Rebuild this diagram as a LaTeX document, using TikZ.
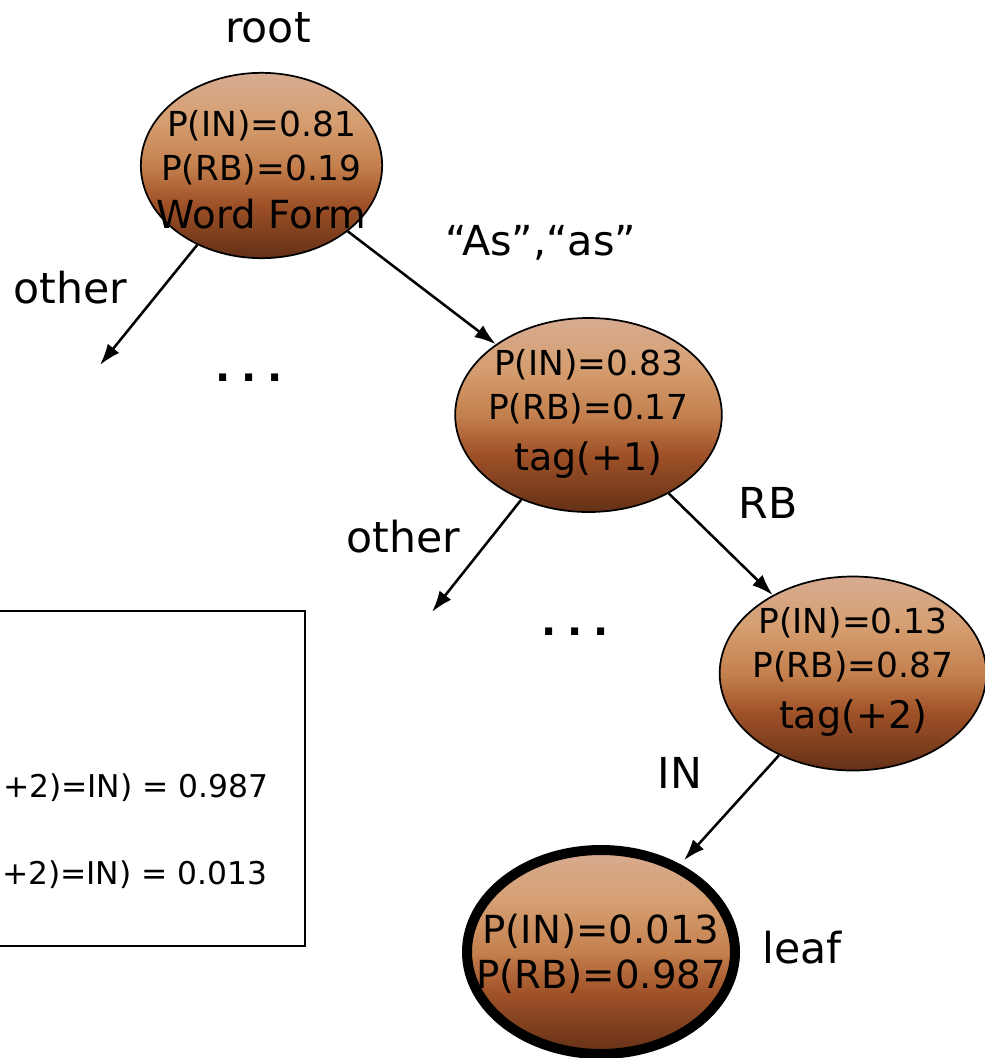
\documentclass[tikz,border=0pt]{standalone}
\usepackage{fontspec}
\setmainfont{DejaVu Sans}
\usetikzlibrary{shapes.geometric,arrows.meta}

\definecolor{barklight}{RGB}{215,172,145}
\definecolor{barksand}{RGB}{213,158,112}
\definecolor{barkorange}{RGB}{196,128,78}
\definecolor{barkrust}{RGB}{160,82,40}
\definecolor{barkdark}{RGB}{100,48,22}
\pgfdeclareverticalshading{bark}{100bp}{color(0bp)=(barkdark); color(25bp)=(barkdark); color(40bp)=(barkrust); color(50bp)=(barkorange); color(62bp)=(barksand); color(75bp)=(barklight); color(100bp)=(barklight)}

\tikzset{every picture/.style={line width=0.75pt}}
\tikzset{
  treenode/.style={ellipse,draw,shading=bark,inner sep=0pt,line width=1.3pt},
  nodetext/.style={align=center,inner sep=0pt,font=\fontsize{25.8}{33}\selectfont},
  edgelabel/.style={inner sep=0pt,font=\fontsize{32}{38}\selectfont},
  dotslabel/.style={inner sep=0pt,font=\fontsize{30}{32}\selectfont\bfseries},
  boxtext/.style={inner sep=0pt,font=\fontsize{23.5}{28}\selectfont},
  branch/.style={-{Latex[length=16pt,width=11pt]},line width=1.9pt},
}

\begin{document}
\begin{tikzpicture}[x=0.75pt,y=0.75pt,yscale=-1,xscale=1]
\useasboundingbox (0,0) rectangle (985,1058);

%Shape: Ellipse nodes of the tree
\node [treenode,minimum width=181pt,minimum height=139pt] (root) at (261.5,165.5) {};
\node [treenode,minimum width=200pt,minimum height=145.5pt] (tagA) at (588.5,415) {};
\node [treenode,minimum width=200pt,minimum height=145.5pt] (tagB) at (853,673.5) {};
\node [treenode,line width=7.5pt,minimum width=201pt,minimum height=153pt] (leaf) at (601,952) {};

% Text Node
\node [nodetext] (rootText) at ([yshift=3pt]root) {P(IN)=0.81\\P(RB)=0.19\\[3pt]{\fontsize{29}{33}\selectfont Word Form}};
% Text Node
\node [nodetext] (tagAText) at ([yshift=-1pt]tagA) {P(IN)=0.83\\P(RB)=0.17\\[5pt]{\fontsize{28.5}{33}\selectfont tag(+1)}};
% Text Node
\node [nodetext] (tagBText) at ([yshift=-1pt]tagB) {P(IN)=0.13\\P(RB)=0.87\\[5pt]{\fontsize{28.5}{33}\selectfont tag(+2)}};
% Text Node
\node [nodetext,font=\fontsize{29}{34}\selectfont] (leafText) at ([yshift=1.5pt]leaf) {P(IN)=0.013\\P(RB)=0.987};

%Straight Lines: branches
\coordinate (endA) at (100,365);
\coordinate (endB) at (432,612);
\draw [branch] (root) -- (endA);
\draw [branch] (root) -- (tagA);
\draw [branch] (tagA) -- (endB);
\draw [branch] (tagA) -- (tagB);
\draw [branch,shorten >=4pt] (tagB) -- (leaf);

% Text Node
\node [edgelabel] (rootLabel) at (268,28) {root};
\node [edgelabel] (otherA) at (70,288) {other};
\node [edgelabel,font=\fontsize{31}{34}\selectfont] (wordLabel) at (541,243) {“As”,“as”};
\node [dotslabel] (dotsA) at (249,378) {.\hspace{8pt}.\hspace{8pt}.};
\node [edgelabel] (otherB) at (403,537) {other};
\node [edgelabel] (rbLabel) at (768,503) {RB};
\node [dotslabel] (dotsB) at (575,632) {.\hspace{8pt}.\hspace{8pt}.};
\node [edgelabel] (inLabel) at (680,773) {IN};
\node [edgelabel] (leafLabel) at (802,948) {leaf};

%Shape: Rectangle with the leaf estimates
\draw [line width=2.2pt] (-20,611) rectangle (305,946);
\node [boxtext,anchor=east] (probIN) at (269,788) {+2)=IN) = 0.987};
\node [boxtext,anchor=east] (probRB) at (268,875) {+2)=IN) = 0.013};

\end{tikzpicture}
\end{document}
